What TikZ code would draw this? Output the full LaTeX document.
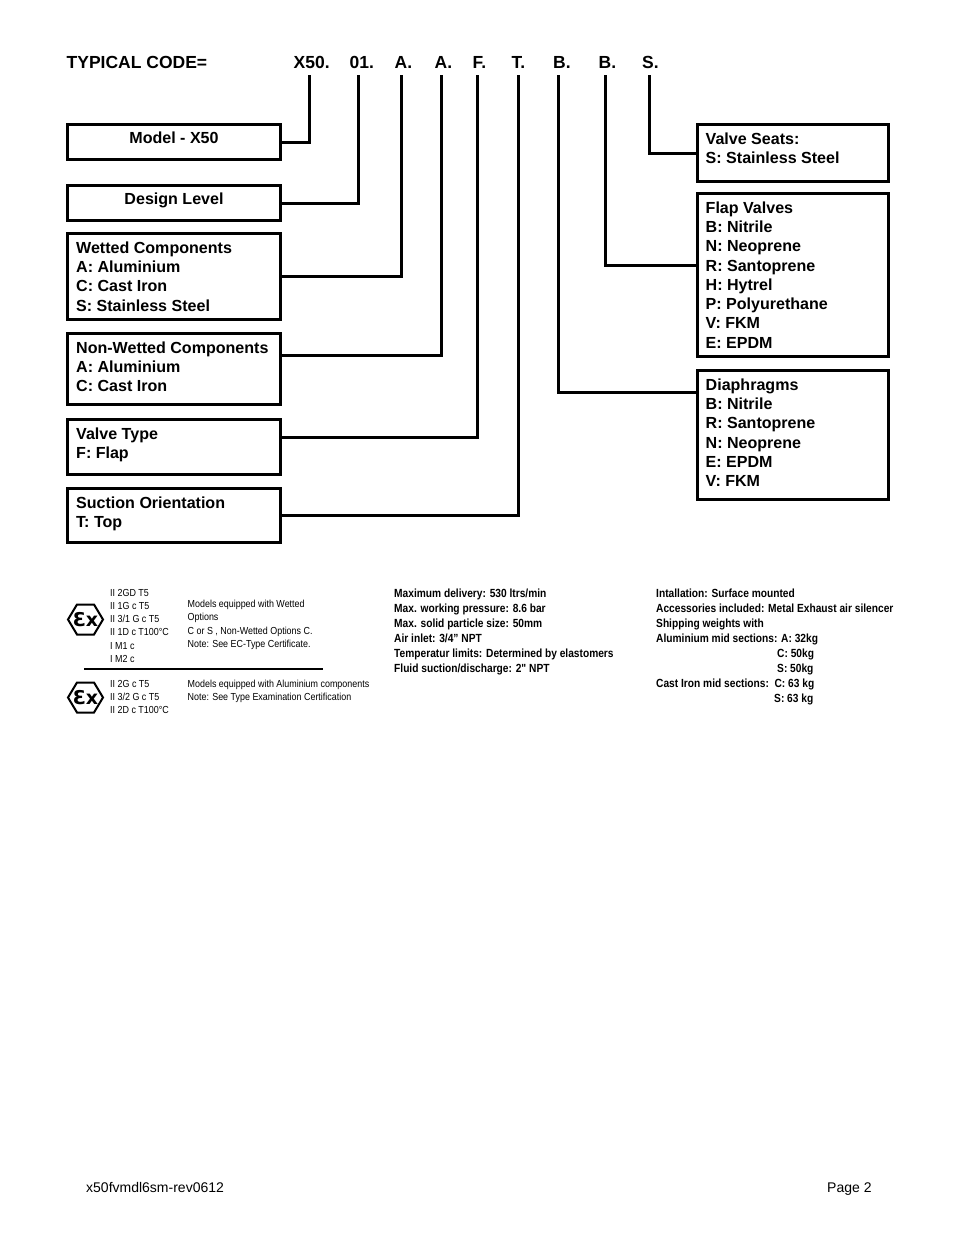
\documentclass[tikz,border=0pt]{standalone}
\usepackage{fontspec}
\setmainfont{Liberation Sans}
\newfontfamily\narrowb[FakeStretch=0.864]{Liberation Sans Bold}
\newfontfamily\narrowr[FakeStretch=0.875]{Liberation Sans}
\newfontfamily\exfont{DejaVu Sans Bold}
\tikzset{
  boxshape/.style={draw=black,line width=3pt,minimum width=#1,inner sep=0pt,outer sep=0pt},
  boxtext/.style={anchor=north west,inner sep=0pt,align=left,font=\fontsize{16.05}{19.25}\selectfont\bfseries},
  boxcentre/.style={anchor=north,inner sep=0pt,align=center,font=\fontsize{16.05}{19.25}\selectfont\bfseries},
  codetext/.style={anchor=base west,inner sep=0pt,font=\fontsize{17.5}{20}\selectfont\bfseries},
  conn/.style={draw=black,line width=3pt,line join=miter},
  specs/.style={anchor=north west,inner sep=0pt,align=left,font=\fontsize{11.8}{14.85}\narrowb},
  cert/.style={anchor=north west,inner sep=0pt,align=left,font=\fontsize{10.2}{13.2}\narrowr},
  foot/.style={anchor=base west,inner sep=0pt,font=\fontsize{14}{17}\selectfont},
  hexa/.style={draw=black,line width=2pt,line join=miter},
  extext/.style={inner sep=0pt,font=\fontsize{19}{19}\exfont}
}
\begin{document}
\begin{tikzpicture}[x=1pt,y=-1pt]
\useasboundingbox (0,0) rectangle (954,1235);
\fill[white] (0,0) rectangle (954,1235);
% code line
\node[codetext] (tc) at (66.5,68) {TYPICAL CODE=};
\node[codetext] (k1) at (293.5,68) {X50.};
\node[codetext] (k2) at (349.5,68) {01.};
\node[codetext] (k3) at (394.5,68) {A.};
\node[codetext] (k4) at (434.5,68) {A.};
\node[codetext] (k5) at (472.5,68) {F.};
\node[codetext] (k6) at (511.5,68) {T.};
\node[codetext] (k7) at (553,68) {B.};
\node[codetext] (k8) at (598.5,68) {B.};
\node[codetext] (k9) at (642,68) {S.};
% top ends of connectors
\coordinate (c1) at (309.5,75);
\coordinate (c2) at (358.5,75);
\coordinate (c3) at (401.5,75);
\coordinate (c4) at (441,75);
\coordinate (c5) at (477.5,75);
\coordinate (c6) at (518,75);
\coordinate (c7) at (558,75);
\coordinate (c8) at (605.5,75);
\coordinate (c9) at (649,75);
% left boxes
\node[boxshape=212.5pt,minimum height=34.5pt] (b1) at (174,142) {};
\node[boxcentre] (t1) at (174,131.6) {Model - X50};
\node[boxshape=212.5pt,minimum height=34.5pt] (b2) at (174,203) {};
\node[boxcentre] (t2) at (174,193) {Design Level};
\node[boxshape=212.5pt,minimum height=85.5pt] (b3) at (174,276.5) {};
\node[boxtext] (t3) at (76,241.5) {Wetted Components\\A: Aluminium\\C: Cast Iron\\S: Stainless Steel};
\node[boxshape=212.5pt,minimum height=70.5pt] (b4) at (174,369) {};
\node[boxtext] (t4) at (76,341.6) {Non-Wetted Components\\A: Aluminium\\C: Cast Iron};
\node[boxshape=212.5pt,minimum height=54.5pt] (b5) at (174,447) {};
\node[boxtext] (t5) at (76,427.3) {Valve Type\\F: Flap};
\node[boxshape=212.5pt,minimum height=53.5pt] (b6) at (174,515.5) {};
\node[boxtext] (t6) at (76,496.3) {Suction Orientation\\T: Top};
% right boxes
\node[boxshape=191pt,minimum height=56.5pt] (b9) at (793,153) {};
\node[boxtext] (t9) at (705.5,132.5) {Valve Seats:\\S: Stainless Steel};
\node[boxshape=191pt,minimum height=162.5pt] (b8) at (793,275) {};
\node[boxtext] (t8) at (705.5,201.5) {Flap Valves\\B: Nitrile\\N: Neoprene\\R: Santoprene\\H: Hytrel\\P: Polyurethane\\V: FKM\\E: EPDM};
\node[boxshape=191pt,minimum height=128.5pt] (b7) at (793,435) {};
\node[boxtext] (t7) at (705.5,378.5) {Diaphragms\\B: Nitrile\\R: Santoprene\\N: Neoprene\\E: EPDM\\V: FKM};
% connectors
\draw[conn] (c1) |- (b1.east);
\draw[conn] (c2) |- (b2.east);
\draw[conn] (c3) |- (b3.east);
\draw[conn] (c4) |- ([yshift=14pt]b4.east);
\draw[conn] (c5) |- ([yshift=10pt]b5.east);
\draw[conn] (c6) |- (b6.east);
\draw[conn] (c7) |- ([yshift=43pt]b7.west);
\draw[conn] (c8) |- ([yshift=10pt]b8.west);
\draw[conn] (c9) |- (b9.west);
% certification block
\draw[hexa] (68,619.5) -- (77,604.5) -- (94,604.5) -- (103,619.5) -- (94,634.5) -- (77,634.5) -- cycle;
\node[extext] (ex1) at (85.5,619.5) {Ɛx};
\draw[hexa] (68,697.5) -- (77,682.5) -- (94,682.5) -- (103,697.5) -- (94,712.5) -- (77,712.5) -- cycle;
\node[extext] (ex2) at (85.5,697.5) {Ɛx};
\node[cert] (a1) at (110,589) {II 2GD T5\\II 1G c T5\\II 3/1 G c T5\\II 1D c T100°C\\I M1 c\\I M2 c};
\node[cert] (a2) at (187.5,600) {Models equipped with Wetted\\Options\\C or S , Non-Wetted Options C.\\Note: See EC-Type Certificate.};
\coordinate (ra) at (84,668.5);
\coordinate (rb) at (323,668.5);
\draw[black,line width=2pt] (ra) -- (rb);
\node[cert] (a3) at (110,680) {II 2G c T5\\II 3/2 G c T5\\II 2D c T100°C};
\node[cert] (a4) at (187.5,680) {Models equipped with Aluminium components\\Note: See Type Examination Certification};
% specs
\node[specs] (s1) at (394,589) {Maximum delivery: 530 ltrs/min\\Max. working pressure: 8.6 bar\\Max. solid particle size: 50mm\\Air inlet: 3/4” NPT\\Temperatur limits: Determined by elastomers\\Fluid suction/discharge: 2" NPT};
\node[specs] (s2) at (656,589) {Intallation: Surface mounted\\Accessories included: Metal Exhaust air silencer\\Shipping weights with\\Aluminium mid sections: A: 32kg};
\node[specs] (s3) at (777,649) {C: 50kg\\S: 50kg};
\node[specs] (s4) at (656,678.5) {Cast Iron mid sections:\ \ C: 63 kg};
\node[specs] (s5) at (774,693.5) {S: 63 kg};
% footer
\node[foot] (f1) at (86,1192) {x50fvmdl6sm-rev0612};
\node[foot] (f2) at (827,1192) {Page 2};
\end{tikzpicture}
\end{document}
